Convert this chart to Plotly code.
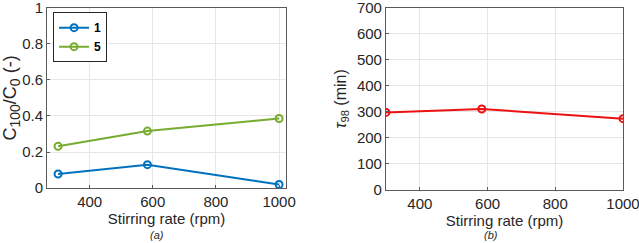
import plotly.graph_objects as go

stir_rate = [300, 583, 1000]
c_ratio_1 = [0.078, 0.13, 0.02]
c_ratio_5 = [0.232, 0.316, 0.386]
tau_98 = [298, 311, 274]

FONT = "Liberation Sans, Arial, sans-serif"
TXT = "#262626"

fig = go.Figure()
fig.add_trace(go.Scatter(x=stir_rate, y=c_ratio_1, name="1", mode="lines+markers",
                         line=dict(color="#0072BD", width=2),
                         marker=dict(symbol="circle-open", size=7, line=dict(width=2), color="#0072BD"),
                         xaxis="x", yaxis="y"))
fig.add_trace(go.Scatter(x=stir_rate, y=c_ratio_5, name="5", mode="lines+markers",
                         line=dict(color="#77AC30", width=2),
                         marker=dict(symbol="circle-open", size=7, line=dict(width=2), color="#77AC30"),
                         xaxis="x", yaxis="y"))
fig.add_trace(go.Scatter(x=stir_rate, y=tau_98, name="tau", mode="lines+markers", showlegend=False,
                         line=dict(color="#EE1111", width=2),
                         marker=dict(symbol="circle-open", size=7, line=dict(width=2), color="#EE1111"),
                         xaxis="x2", yaxis="y2"))

ax_common = dict(showgrid=True, gridcolor="#E6E6E6", gridwidth=1, zeroline=False,
                 showline=True, linecolor="#5a5a5a", linewidth=1, mirror=True,
                 ticks="inside", ticklen=3, tickcolor="#5a5a5a", automargin=False,
                 ticklabeloverflow="allow",
                 tickfont=dict(family=FONT, size=15, color=TXT))
TF = dict(size=15, family=FONT, color=TXT)

fig.update_layout(
    template="none",
    width=639, height=243,
    margin=dict(l=0, r=0, t=0, b=0),
    paper_bgcolor="white", plot_bgcolor="white",
    font=dict(family=FONT, color=TXT),
    xaxis=dict(domain=[0.0736, 0.4476], range=[265, 1022], tickvals=[400, 600, 800, 1000],
               title=dict(text="Stirring rate (rpm)", font=TF, standoff=4),
               anchor="y", **ax_common),
    yaxis=dict(domain=[0.226, 0.968], range=[0, 1], tickvals=[0, 0.2, 0.4, 0.6, 0.8, 1],
               ticktext=["0", "0.2", "0.4", "0.6", "0.8", "1"],
               title=dict(text="C<sub><span style='font-size:14px'>100</span></sub>/C<sub><span style='font-size:14px'>0</span></sub> (-)",
                          font=dict(size=18, family=FONT, color=TXT), standoff=4),
               anchor="x", **ax_common),
    xaxis2=dict(domain=[0.604, 0.975], range=[300, 1000], tickvals=[400, 600, 800, 1000],
                title=dict(text="Stirring rate (rpm)", font=TF, standoff=4),
                anchor="y2", **ax_common),
    yaxis2=dict(domain=[0.218, 0.968], range=[0, 700], tickvals=[0, 100, 200, 300, 400, 500, 600, 700],
                title=dict(text="<i>τ</i><sub>98</sub> (min)", font=dict(size=16, family=FONT, color=TXT), standoff=6),
                anchor="x2", **ax_common),
    legend=dict(x=0.083, y=0.95, xanchor="left", yanchor="top",
                bgcolor="white", bordercolor="#262626", borderwidth=1,
                font=dict(family=FONT, size=12, color="black", weight="bold"),
                tracegroupgap=0, itemwidth=30),
    annotations=[
        dict(text="<i>(a)</i>", x=0.246, y=0.0, xref="paper", yref="paper", xanchor="center", yanchor="bottom",
             showarrow=False, font=dict(family=FONT, size=11, color=TXT)),
        dict(text="<i>(b)</i>", x=0.768, y=0.0, xref="paper", yref="paper", xanchor="center", yanchor="bottom",
             showarrow=False, font=dict(family=FONT, size=11, color=TXT)),
    ],
)

fig.write_html("out.html")
